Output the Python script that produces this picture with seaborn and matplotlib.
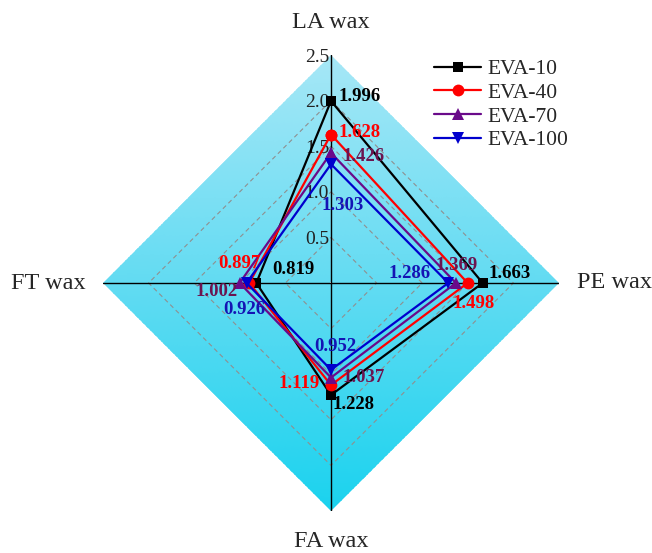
import numpy as np
import pandas as pd
import matplotlib
matplotlib.use("Agg")
import matplotlib.pyplot as plt
from matplotlib.colors import LinearSegmentedColormap
from matplotlib.lines import Line2D
import seaborn as sns

# ---------------- data ----------------
categories = ["LA wax", "PE wax", "FA wax", "FT wax"]
series_names = ["EVA-10", "EVA-40", "EVA-70", "EVA-100"]
eva10 = [1.996, 1.663, 1.228, 0.819]
eva40 = [1.628, 1.498, 1.119, 0.897]
eva70 = [1.426, 1.369, 1.037, 1.002]
eva100 = [1.303, 1.286, 0.952, 0.926]
radial_ticks = [0.5, 1.0, 1.5, 2.0, 2.5]
radial_labels = ["0.5", "1.0", "1.5", "2.0", "2.5"]

# ---------------- style ----------------
sns.set_style("white")
plt.rcParams["font.family"] = ["Liberation Serif", "DejaVu Serif"]

line_colors = ["#000000", "#ff0000", "#6a0a8a", "#0000cd"]
text_colors = ["#000000", "#ff0000", "#6b1450", "#1414b4"]
markers = ["s", "o", "^", "v"]
msizes = [7.5, 8.5, 9, 9]

# label placement: (ha, dx px, dy px) per series per category
label_pos = [
    [("left", 7, 4), ("left", 6, 10), ("left", 2, -10), ("left", 16, 13)],
    [("left", 7, 2), ("center", 6, -20), ("right", -11, 2), ("center", -10, 20)],
    [("left", 12, -4), ("center", 1, 18), ("left", 12, 0), ("right", -2, -8)],
    [("center", 12, -41), ("right", -18, 10), ("center", 4, 23), ("center", -2, -27)],
]

W, H = 652, 553
fig = plt.figure(figsize=(W / 100, H / 100), dpi=100)
cx, cy, R = 331, 283, 228
ax = fig.add_axes([(cx - R) / W, (H - cy - R) / H, 2 * R / W, 2 * R / H],
                  projection="polar")
ax.set_theta_zero_location("N")
ax.set_theta_direction(-1)
ax.set_ylim(0, 2.5)
ax.grid(False)
ax.set_xticks([])
ax.set_yticks([])
ax.spines["polar"].set_visible(False)
ax.patch.set_alpha(0)

angles = np.array([0, np.pi / 2, np.pi, 3 * np.pi / 2])
ang_closed = np.append(angles, angles[0])
rmax = radial_ticks[-1]

# gradient background clipped to diamond
th = np.linspace(0, 2 * np.pi, 721)
rr = np.linspace(0, rmax, 120)
TH, RR = np.meshgrid(th, rr)
C = RR * np.cos(TH)
cmap = LinearSegmentedColormap.from_list("bg", ["#1ad2ee", "#62dbf2", "#a6e7f6"])
mesh = ax.pcolormesh(TH, RR, C, cmap=cmap, vmin=-rmax, vmax=rmax,
                     shading="auto", zorder=0)
clip = ax.fill(ang_closed, [rmax] * 5, facecolor="none", edgecolor="none")[0]
mesh.set_clip_path(clip)

# dashed diamond gridlines
for r in radial_ticks[:-1]:
    ax.plot(ang_closed, [r] * 5, color="#8f8f8f", lw=0.8, ls=(0, (4, 3)), zorder=1)
# axes lines
for a in angles:
    ax.plot([a, a], [0, rmax], color="black", lw=1.0, zorder=2)

# radial tick labels
for r, lab in zip(radial_ticks, radial_labels):
    ax.annotate(lab, xy=(0, r), xytext=(-2, -2), textcoords="offset pixels",
                ha="right", va="center", fontsize=14, color="#222222", zorder=2)

# series
all_series = [eva10, eva40, eva70, eva100]
for i, (name, vals) in enumerate(zip(series_names, all_series)):
    df = pd.DataFrame({"theta": ang_closed, "r": list(vals) + [vals[0]]})
    sns.lineplot(data=df, x="theta", y="r", sort=False, estimator=None, ax=ax,
                 color=line_colors[i], lw=1.6, marker=markers[i],
                 markersize=msizes[i], markeredgewidth=0, zorder=3 + i,
                 legend=False)
ax.set_xlabel("")
ax.set_ylabel("")
ax.set_ylim(0, 2.5)

# value labels
for i, vals in enumerate(all_series):
    for j, v in enumerate(vals):
        ha, dx, dy = label_pos[i][j]
        ax.annotate(f"{v:.3f}", xy=(angles[j], v), xytext=(dx, dy),
                    textcoords="offset pixels", ha=ha, va="center",
                    fontsize=13.5, fontweight="bold", color=text_colors[i],
                    zorder=10)

# category labels
cat_r = [2.86, 3.11, 2.83, 3.10]
for a, lab, r in zip(angles, categories, cat_r):
    ax.text(a, r, lab, ha="center", va="center", fontsize=17.5, clip_on=False)

# legend
handles = [Line2D([0], [0], color=line_colors[i], lw=1.6, marker=markers[i],
                  markersize=msizes[i], markeredgewidth=0)
           for i in range(4)]
fig.legend(handles, series_names, loc="upper left",
           bbox_to_anchor=(419 / W, 1 - 44 / H), frameon=False,
           fontsize=15.5, handlelength=2.2, handletextpad=0.3,
           labelspacing=0.17, borderpad=0.2)

fig.savefig("out.png", dpi=100)
